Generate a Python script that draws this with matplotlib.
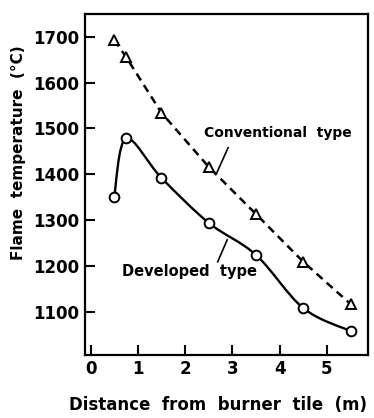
import matplotlib
matplotlib.use("Agg")
import matplotlib.pyplot as plt
import numpy as np
from matplotlib.path import Path
from matplotlib.patches import PathPatch

plt.rcParams['font.family'] = ['DejaVu Sans']
plt.rcParams['font.weight'] = 'bold'

# Data
conv_x = [0.5, 0.75, 1.5, 2.5, 3.5, 4.5, 5.5]
conv_y = [1693, 1656, 1534, 1416, 1313, 1209, 1117]
dev_x = [0.5, 0.75, 1.5, 2.5, 3.5, 4.5, 5.5]
dev_y = [1351, 1478, 1392, 1294, 1224, 1108, 1058]
x_ticks = [0, 1, 2, 3, 4, 5]
y_ticks = [1100, 1200, 1300, 1400, 1500, 1600, 1700]

fig = plt.figure(figsize=(3.74, 4.18), dpi=100)
ax = fig.add_axes([0.227, 0.151, 0.757, 0.816])

def catmull_path(xs, ys):
    pts = np.column_stack([xs, ys]).astype(float)
    ext = np.vstack([pts[0], pts, pts[-1]])
    verts = [tuple(pts[0])]
    codes = [Path.MOVETO]
    for i in range(1, len(ext) - 2):
        p0, p1, p2, p3 = ext[i - 1], ext[i], ext[i + 1], ext[i + 2]
        c1 = p1 + (p2 - p0) / 6.0
        c2 = p2 - (p3 - p1) / 6.0
        verts += [tuple(c1), tuple(c2), tuple(p2)]
        codes += [Path.CURVE4] * 3
    return Path(verts, codes)

ax.add_patch(PathPatch(catmull_path(dev_x, dev_y), facecolor='none',
                       edgecolor='black', lw=1.7, zorder=2))
ax.plot(dev_x, dev_y, linestyle='none', marker='o', ms=7, mfc='white',
        mec='black', mew=1.4, zorder=3)

ax.plot(conv_x, conv_y, color='black', lw=1.8, linestyle=(0, (3.2, 2.2)), zorder=2)
ax.plot(conv_x, conv_y, linestyle='none', marker='^', ms=7.5, mfc='white',
        mec='black', mew=1.4, zorder=3)

ax.set_xlim(-0.12, 5.87)
ax.set_ylim(1006, 1750)
ax.set_xticks(x_ticks)
ax.set_yticks(y_ticks)
ax.set_xticklabels([str(v) for v in x_ticks], fontsize=12, fontweight='bold')
ax.set_yticklabels([str(v) for v in y_ticks], fontsize=12, fontweight='bold')
ax.tick_params(direction='in', length=7, width=1.5, pad=4)
for s in ax.spines.values():
    s.set_linewidth(1.6)

ax.set_xlabel('Distance  from  burner  tile  (m)', fontsize=12, fontweight='bold')
ax.xaxis.set_label_coords(0.47, -0.147)
ax.xaxis.label.set_va('center')
ax.set_ylabel('Flame  temperature  (°C)', fontsize=11, fontweight='bold')
ax.yaxis.set_label_coords(-0.233, 0.592)
ax.yaxis.label.set_va('center')

ax.text(3.97, 1490, 'Conventional  type', ha='center', va='center', fontsize=10, fontweight='bold')
ax.plot([2.91, 2.67], [1458, 1403], color='black', lw=1.2)
ax.text(2.1, 1187, 'Developed  type', ha='center', va='center', fontsize=10.5, fontweight='bold')
ax.plot([2.69, 2.89], [1209, 1257], color='black', lw=1.2)

fig.savefig('out.png', dpi=100)
